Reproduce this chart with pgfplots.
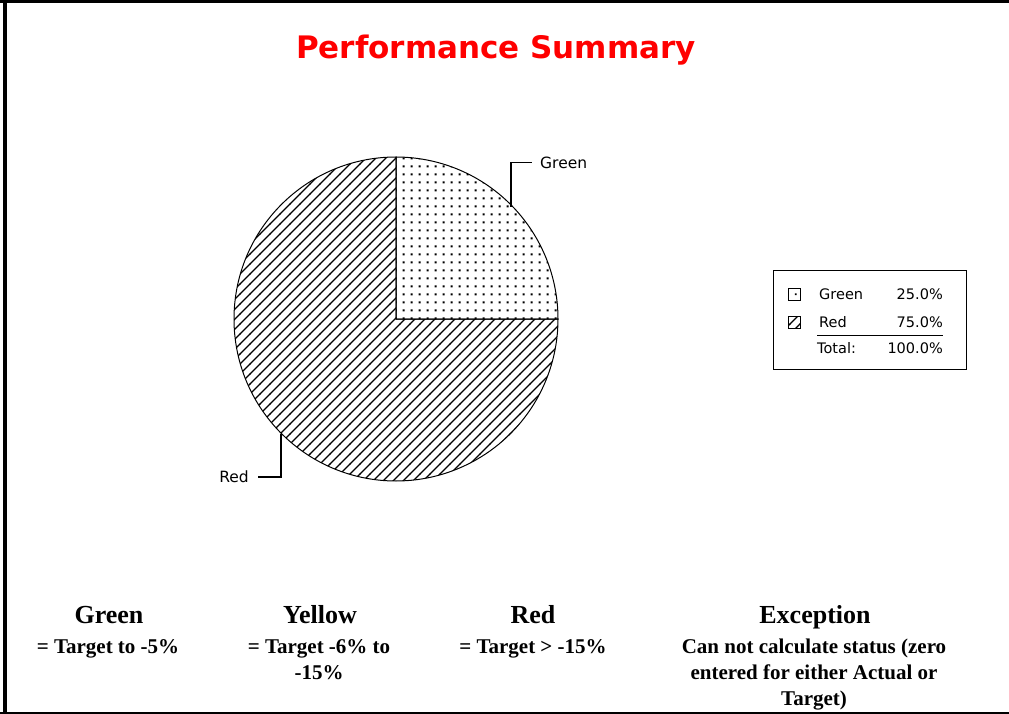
\documentclass[border=0pt]{standalone}
\usepackage{pgfplots}
\pgfplotsset{compat=1.18}
\usepackage{pgfplotstable}
\usetikzlibrary{patterns.meta}
\usepackage{fontspec}
\setmainfont{Liberation Serif}
\newfontfamily\dv{DejaVu Sans}

\pgfplotstableread{
label value
Green 25
Red 75
}\piedata

\tikzdeclarepattern{
  name=piedots, type=uncolored,
  bottom left={(0pt,0pt)}, top right={(8pt,8pt)},
  tile size={(8pt,8pt)},
  code={\pgfpathrectangle{\pgfqpoint{3pt}{3pt}}{\pgfqpoint{2.1pt}{2.1pt}}\pgfusepath{fill}}
}
\tikzdeclarepattern{
  name=piehatch, type=uncolored,
  bottom left={(-0.5pt,-0.5pt)}, top right={(10.5pt,10.5pt)},
  tile size={(10pt,10pt)},
  code={\pgfsetlinewidth{1.1pt}\pgfpathmoveto{\pgfqpoint{-1pt}{-1pt}}\pgfpathlineto{\pgfqpoint{11pt}{11pt}}\pgfusepath{stroke}}
}

\begin{document}
\begin{tikzpicture}
\pgfplotstablegetelem{0}{value}\of\piedata \let\vA\pgfplotsretval
\pgfplotstablegetelem{1}{value}\of\piedata \let\vB\pgfplotsretval
\pgfmathsetmacro\angA{\vA*3.6}
\pgfmathsetmacro\angB{\angA+\vB*3.6}
\begin{axis}[at={(0,0)}, anchor=south west, scale only axis,
  width=1009pt, height=714pt, xmin=0, xmax=1009, ymin=0, ymax=714,
  y dir=reverse, hide axis, enlargelimits=false, clip=false]
% frame
\fill[black] (axis cs:3,0) rectangle (axis cs:6.5,714);
\fill[black] (axis cs:0,0) rectangle (axis cs:1009,3);
\fill[black] (axis cs:0,711.5) rectangle (axis cs:1009,713.5);
% title
\node[anchor=base, text={rgb,255:red,255;green,0;blue,0}, font=\dv\bfseries\fontsize{31}{36}\selectfont] at (axis cs:496,59) {Performance Summary};
% pie
\filldraw[pattern=piedots, draw=black, line width=1pt] (axis cs:396,319) -- ++(0:162pt) arc[start angle=0, end angle=\angA, radius=162pt] -- cycle;
\filldraw[pattern=piehatch, draw=black, line width=1pt] (axis cs:396,319) -- ++(\angA:162pt) arc[start angle=\angA, end angle=\angB, radius=162pt] -- cycle;
% leaders
\draw[line width=1.2pt] (axis cs:511,207) |- (axis cs:532,162.5);
\node[anchor=west, font=\dv\fontsize{15.5}{18}\selectfont, inner sep=0pt] at (axis cs:540,162.5) {Green};
\draw[line width=1.2pt] (axis cs:281,434) |- (axis cs:258,477);
\node[anchor=east, font=\dv\fontsize{15.5}{18}\selectfont, inner sep=0pt] at (axis cs:249,477) {Red};
% legend
\draw[line width=1pt] (axis cs:773,270) rectangle (axis cs:966,369);
\draw[pattern=piedots, line width=0.9pt] (axis cs:788,288) rectangle (axis cs:800,300);
\draw[pattern=piehatch, line width=0.9pt] (axis cs:788,316) rectangle (axis cs:800,328);
\begin{scope}[every node/.style={font=\dv\fontsize{14.5}{17}\selectfont, inner sep=0pt}]
\node[anchor=base west] at (axis cs:819,299) {Green};
\node[anchor=base east] at (axis cs:943,299) {25.0\%};
\node[anchor=base west] at (axis cs:819,327) {Red};
\node[anchor=base east] at (axis cs:943,327) {75.0\%};
\node[anchor=base west] at (axis cs:817,353) {Total:};
\node[anchor=base east] at (axis cs:943,353) {100.0\%};
\end{scope}
\draw[line width=1pt] (axis cs:817,335) -- (axis cs:943,335);
% bottom legend text
\begin{scope}[every node/.style={anchor=base, inner sep=0pt}]
\node[font=\bfseries\fontsize{26}{30}\selectfont] at (axis cs:109,623) {Green};
\node[font=\bfseries\fontsize{26}{30}\selectfont] at (axis cs:320,623) {Yellow};
\node[font=\bfseries\fontsize{26}{30}\selectfont] at (axis cs:533,623) {Red};
\node[font=\bfseries\fontsize{26}{30}\selectfont] at (axis cs:815,623) {Exception};
\node[font=\bfseries\fontsize{21}{25}\selectfont] at (axis cs:108,653) {= Target to -5\%};
\node[font=\bfseries\fontsize{21}{25}\selectfont] at (axis cs:319,653) {= Target -6\% to};
\node[font=\bfseries\fontsize{21}{25}\selectfont] at (axis cs:319,679) {-15\%};
\node[font=\bfseries\fontsize{21}{25}\selectfont] at (axis cs:533,653) {= Target > -15\%};
\node[font=\bfseries\fontsize{21}{25}\selectfont] at (axis cs:814,653) {Can not calculate status (zero};
\node[font=\bfseries\fontsize{21}{25}\selectfont] at (axis cs:814,679) {entered for either Actual or};
\node[font=\bfseries\fontsize{21}{25}\selectfont] at (axis cs:814,705) {Target)};
\end{scope}
\end{axis}
\pgfresetboundingbox
\useasboundingbox (0,0) rectangle (1009pt,714pt);
\end{tikzpicture}
\end{document}
